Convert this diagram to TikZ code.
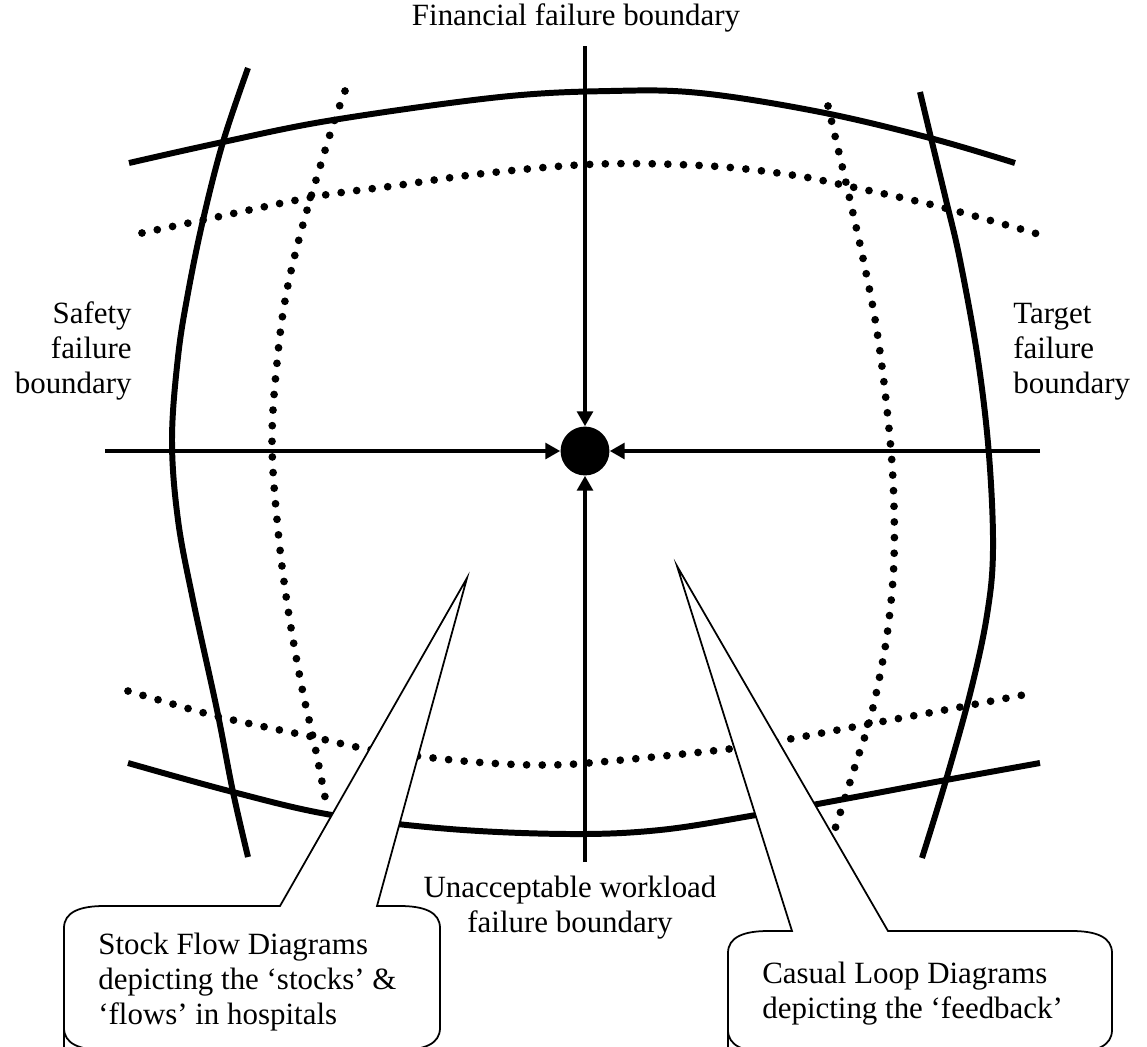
\documentclass[tikz,border=0pt]{standalone}
\usepackage{fontspec}
\setmainfont{Liberation Serif}
\usetikzlibrary{arrows.meta}
\begin{document}
\begin{tikzpicture}[x=0.02cm,y=-0.02cm,
  boundary/.style={line width=3.4pt, line join=round},
  margin/.style={line width=4.4pt, line cap=round, dash pattern=on 0pt off 8.9pt},
  axis/.style={line width=2pt, -{Triangle[length=8.5pt,width=9pt]}},
  callout/.style={draw, line width=1pt, fill=white, line join=miter},
  lbl/.style={font=\fontsize{17.6}{19.8}\selectfont, inner sep=0pt},
  hub/.style={circle, fill=black, minimum size=27.8pt, inner sep=0pt}]
\useasboundingbox (0,0) rectangle (1147,1046);
\clip (0,0) rectangle (1147,1046);

% outer (solid) failure boundaries
\draw[boundary] plot[smooth, tension=0.6] coordinates {(129,163) (223,142) (333,120) (500,97) (610,91) (700,93) (820,112) (930,138) (1015,163)};
\draw[boundary] plot[smooth, tension=0.6] coordinates {(248,68) (223,142) (203,220) (188,293) (178,357) (172,440) (178,520) (193,600) (217,710) (233,792) (248,857)};
\draw[boundary] plot[smooth, tension=0.6] coordinates {(920,92) (931,138) (946,200) (960,260) (978,360) (989,455) (993,550) (987,615) (971,690) (946,780) (922,858)};
\draw[boundary] plot[smooth, tension=0.6] coordinates {(128,763) (233,792) (332,815) (450,829) (570,834) (660,830) (756,815) (850,798) (946,780) (1040,763)};

% inner (dotted) margins
\draw[margin] plot[smooth, tension=0.6] coordinates {(142,233) (203,220) (313,197) (393,186) (488,173) (600,164) (710,166) (792,175) (843,185) (933,205) (1010,226) (1041,235)};
\draw[margin] plot[smooth, tension=0.6] coordinates {(345,91) (333,125) (320,167) (302,228) (287,290) (278,353) (272,440) (278,530) (288,609) (302,688) (313,737) (325,797)};
\draw[margin] plot[smooth, tension=0.6] coordinates {(828,106) (836,140) (850,200) (864,263) (876,325) (886,400) (893,480) (894,560) (888,628) (879,680) (869,723) (857,760) (845,798) (835,829)};
\draw[margin] plot[smooth, tension=0.6] coordinates {(128,691) (159,700) (220,717) (313,737) (362,748) (425,757) (488,763) (545,765) (600,762) (729,749) (790,739) (869,724) (950,709) (1028,694)};

% operating point and the pressures pushing on it
\node[hub] (hub) at (585,451) {};
\coordinate (west) at (105,451);
\coordinate (east) at (1040,451);
\coordinate (north) at (585,46);
\coordinate (south) at (585,862);
\draw[axis] (west) -- (hub);
\draw[axis] (east) -- (hub);
\draw[axis] (north) -- (hub);
\draw[axis] (south) -- (hub);

% callouts
\path[callout] (64,1080) -- (64,928) .. controls (64,912) and (80,906) .. (104,906)
  -- (280,906) -- (467,578) -- (377,906) -- (400,906)
  .. controls (424,906) and (440,912) .. (440,928) -- (440,1028)
  .. controls (440,1044) and (424,1050) .. (400,1050) -- (104,1050)
  .. controls (80,1050) and (64,1044) .. (64,1028) -- cycle;
\path[callout] (728,1080) -- (728,953) .. controls (728,937) and (744,931) .. (768,931)
  -- (792,931) -- (677,566) -- (888,931) -- (1072,931)
  .. controls (1096,931) and (1112,937) .. (1112,953) -- (1112,1030)
  .. controls (1112,1046) and (1096,1052) .. (1072,1052) -- (768,1052)
  .. controls (744,1052) and (728,1046) .. (728,1030) -- cycle;

% labels (base anchor of a multi-line node sits on its last line)
\node[lbl, anchor=base] (fin) at (576,25) {Financial failure boundary};
\node[lbl, anchor=base east, align=right] (safe) at (132,393) {Safety\\failure\\boundary};
\node[lbl, anchor=base west, align=left] (tgt) at (1013,393) {Target\\failure\\boundary};
\node[lbl, anchor=base, align=center] (work) at (570,932) {Unacceptable workload\\failure boundary};
\node[lbl, anchor=base west, align=left] (sfd) at (98,1024) {Stock Flow Diagrams\\depicting the ‘stocks’ \&\\‘flows’ in hospitals};
\node[lbl, anchor=base west, align=left] (cld) at (762,1018) {Casual Loop Diagrams\\depicting the ‘feedback’};
\end{tikzpicture}
\end{document}
